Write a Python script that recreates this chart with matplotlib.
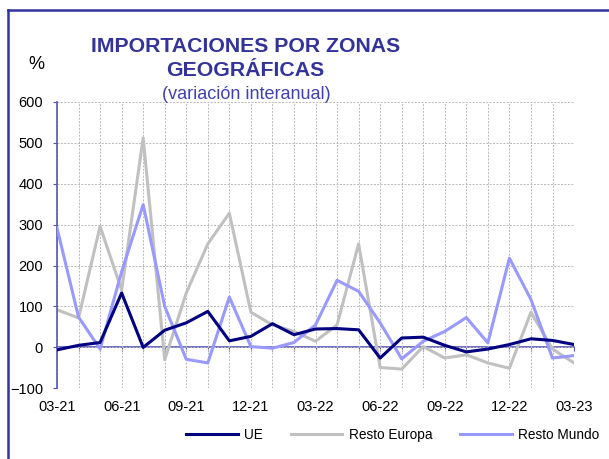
import matplotlib
matplotlib.use("Agg")
import matplotlib.pyplot as plt
from matplotlib.lines import Line2D

plt.rcParams['font.family'] = ['Liberation Sans', 'DejaVu Sans']

months = ['03-21', '04-21', '05-21', '06-21', '07-21', '08-21', '09-21', '10-21',
          '11-21', '12-21', '01-22', '02-22', '03-22', '04-22', '05-22', '06-22',
          '07-22', '08-22', '09-22', '10-22', '11-22', '12-22', '01-23', '02-23', '03-23']
ue = [-6, 5, 12, 133, 0, 42, 60, 88, 16, 27, 58, 31, 45, 46, 43, -26,
      23, 25, 5, -11, -4, 7, 21, 17, 7]
resto_europa = [92, 72, 296, 140, 512, -30, 133, 253, 328, 86, 55, 39, 15, 55, 253, -49,
                -53, 2, -26, -18, -38, -51, 86, -4, -38]
resto_mundo = [292, 74, -4, 185, 349, 100, -29, -38, 123, 2, -2, 12, 55, 164, 137, 60,
               -28, 15, 39, 73, 11, 218, 117, -26, -20]

title_color = '#333399'
axis_color = '#5555BB'

fig = plt.figure(figsize=(6.09, 4.59), dpi=100)
ax = fig.add_axes([0.0936, 0.154, 0.849, 0.624])

x = range(len(months))
ax.plot(x, ue, color='#000080', lw=2.2, label='UE', zorder=4)
ax.plot(x, resto_europa, color='#C0C0C0', lw=2.2, label='Resto Europa', zorder=2)
ax.plot(x, resto_mundo, color='#9999FF', lw=2.2, label='Resto Mundo', zorder=3)

ax.set_xlim(0, len(months) - 1)
ax.set_ylim(-100, 600)
ax.set_yticks(range(-100, 601, 100))
ax.set_xticks(list(x))
ax.set_xticklabels([m if i % 3 == 0 else '' for i, m in enumerate(months)])
ax.grid(True, color='#b8b8b8', lw=0.7, ls=(0, (2, 1.5)), zorder=0)

for side in ['top', 'right', 'bottom']:
    ax.spines[side].set_visible(False)
ax.spines['left'].set_color(axis_color)
ax.spines['left'].set_linewidth(1.2)
ax.tick_params(axis='y', length=3, color=axis_color, pad=7, labelsize=10.5)
ax.tick_params(axis='x', length=0, pad=8.5, labelsize=10.5)

# zero line with month ticks
zero = ax.secondary_xaxis(1 / 7)
zero.set_xticks(list(x))
zero.set_xticklabels([])
zero.spines['bottom'].set_color(axis_color)
zero.spines['bottom'].set_linewidth(1.2)
zero.tick_params(length=3, color=axis_color, direction='out')

fig.text(0.404, 0.898, 'IMPORTACIONES POR ZONAS', ha='center', va='center',
         fontsize=15.3, fontweight='bold', color=title_color)
fig.text(0.402, 0.846, 'GEOGRÁFICAS', ha='center', va='center',
         fontsize=15.3, fontweight='bold', color=title_color)
fig.text(0.404, 0.794, '(variación interanual)', ha='center', va='center',
         fontsize=13, color='#4040B0')
fig.text(0.059, 0.859, '%', ha='center', va='center', fontsize=13)

fig.legend(loc='center', bbox_to_anchor=(0.645, 0.052), ncol=3, frameon=False,
           fontsize=9.8, handlelength=3.8, handletextpad=0.5, columnspacing=2.0)

# frame lines of the figure
fig.add_artist(Line2D([0.013, 1.0], [0.978, 0.978], color='#3333A0', lw=1.8))
fig.add_artist(Line2D([0.013, 0.013], [0.0, 0.978], color='#3333A0', lw=1.8))

fig.savefig('out.png', dpi=100)
